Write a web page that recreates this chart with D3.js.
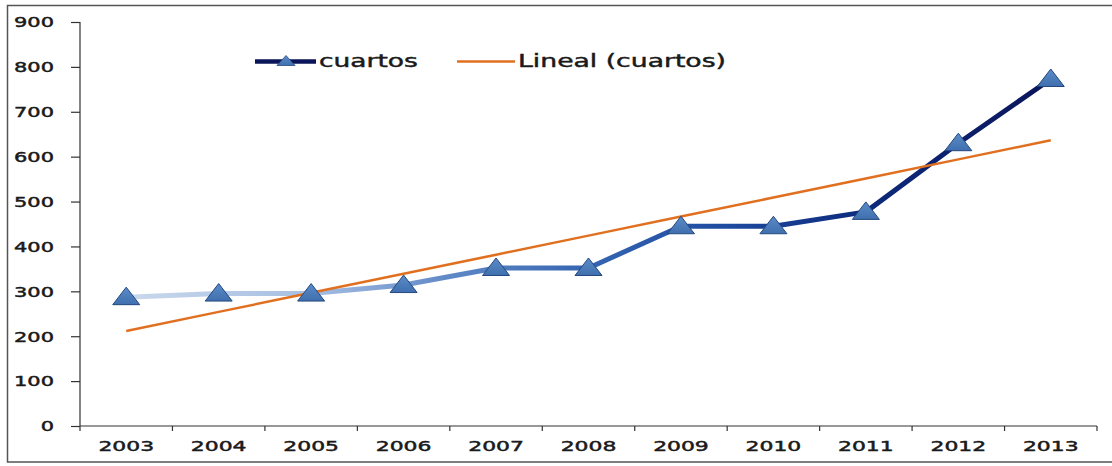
<!DOCTYPE html>
<html>
<head>
<meta charset="utf-8">
<script src="https://cdn.jsdelivr.net/npm/d3@7"></script>
<style>
  html, body { margin: 0; padding: 0; background: #fff; }
  svg { display: block; }
  text { font-family: "DejaVu Sans", Verdana, sans-serif; fill: #1a1a1a; stroke: #1a1a1a; stroke-width: 0.45px; }
</style>
</head>
<body>
<svg id="chart" width="1112" height="466"></svg>
<script>
const years = ["2003","2004","2005","2006","2007","2008","2009","2010","2011","2012","2013"];
const cuartos = [287, 295, 295, 314, 352, 352, 445, 445, 477, 630, 773];
const yTicks = [0, 100, 200, 300, 400, 500, 600, 700, 800, 900];
const seriesName = "cuartos";
const trendName = "Lineal (cuartos)";

// linear regression trend (Excel "Lineal")
const n = cuartos.length;
const xs = d3.range(1, n + 1);
const mx = d3.mean(xs), my = d3.mean(cuartos);
const slope = d3.sum(xs.map((x, i) => (x - mx) * (cuartos[i] - my))) / d3.sum(xs.map(x => (x - mx) ** 2));
const intercept = my - slope * mx;
const trend = xs.map(x => intercept + slope * x);

const svg = d3.select("#chart");

// outer border
svg.append("rect").attr("x", 7.5).attr("y", 5.5).attr("width", 1120).attr("height", 456.5)
  .attr("fill", "none").attr("stroke", "#555").attr("stroke-width", 1.5);

const x = d3.scaleBand().domain(years).range([80, 1097]).padding(0);
const y = d3.scaleLinear().domain([0, 900]).range([426, 22]);
const cx = d => x(d) + x.bandwidth() / 2;

function stretch(sel, k) {
  sel.each(function() {
    const w = this.getComputedTextLength();
    d3.select(this).attr("textLength", w * k).attr("lengthAdjust", "spacingAndGlyphs");
  });
}

// Y axis
const yAxis = svg.append("g").attr("transform", "translate(80,0)")
  .call(d3.axisLeft(y).tickValues(yTicks).tickSize(9).tickPadding(17).tickFormat(d3.format("d")));
yAxis.select(".domain").attr("stroke", "#333").attr("stroke-width", 1.2).attr("d", "M-9,22.5H0V426");
yAxis.selectAll(".tick line").attr("stroke", "#333").attr("stroke-width", 1.2);
yAxis.selectAll(".tick text").attr("font-size", 13.5).attr("fill", "#1a1a1a")
  .attr("font-family", "DejaVu Sans").attr("dy", "0.36em");
yAxis.selectAll(".tick text").call(stretch, 1.55);

// X axis
const xAxis = svg.append("g").attr("transform", "translate(0,426)")
  .call(d3.axisBottom(x).tickSize(0).tickPadding(15));
xAxis.select(".domain").attr("stroke", "#333").attr("stroke-width", 1.2).attr("d", "M80,0H1097");
xAxis.selectAll(".tick text").attr("font-size", 13.5).attr("fill", "#1a1a1a").attr("font-family", "DejaVu Sans");
xAxis.selectAll(".tick text").call(stretch, 1.62);
// boundary tick marks between categories
const bounds = years.map(d => x(d) + x.bandwidth()).concat([x(years[0])]);
xAxis.selectAll("line.btick").data(bounds).join("line").attr("class", "btick")
  .attr("x1", d => d).attr("x2", d => d).attr("y1", 0).attr("y2", 5)
  .attr("stroke", "#333").attr("stroke-width", 1.2);

// gradient for the series line
const defs = svg.append("defs");
const grad = defs.append("linearGradient").attr("id", "lineGrad")
  .attr("gradientUnits", "userSpaceOnUse")
  .attr("x1", cx(years[0])).attr("x2", cx(years[n - 1])).attr("y1", 0).attr("y2", 0);
[[0, "#c9d8ec"], [0.2, "#a6bfe2"], [0.35, "#5f88c6"], [0.5, "#3565b2"], [0.65, "#1d4a9f"], [0.8, "#0e2a7c"], [1, "#0a155a"]]
  .forEach(([o, c]) => grad.append("stop").attr("offset", o).attr("stop-color", c));

// series line
const line = d3.line().x((d, i) => cx(years[i])).y(d => y(d));
svg.append("path").datum(cuartos).attr("d", line)
  .attr("fill", "none").attr("stroke", "url(#lineGrad)").attr("stroke-width", 5)
  .attr("stroke-linejoin", "round");

// trend line
svg.append("path").datum(trend).attr("d", line)
  .attr("fill", "none").attr("stroke", "#e07020").attr("stroke-width", 2.5);

// triangle markers
const tri = "M0,-9.5L13.5,8L-13.5,8Z";
const triGrad = defs.append("linearGradient").attr("id", "triGrad").attr("x1", 0).attr("x2", 0).attr("y1", 0).attr("y2", 1);
triGrad.append("stop").attr("offset", 0).attr("stop-color", "#5b8cc8");
triGrad.append("stop").attr("offset", 1).attr("stop-color", "#3f6fae");
svg.append("g").selectAll("path").data(cuartos).join("path")
  .attr("d", tri)
  .attr("transform", (d, i) => `translate(${cx(years[i])},${y(d) - 0.5})`)
  .attr("fill", "url(#triGrad)").attr("stroke", "#24487e").attr("stroke-width", 1);

// legend
const lg = svg.append("g");
lg.append("line").attr("x1", 255).attr("x2", 316).attr("y1", 61.5).attr("y2", 61.5)
  .attr("stroke", "#0a155a").attr("stroke-width", 4.5);
lg.append("path").attr("d", "M0,-6L9,4L-9,4Z").attr("transform", "translate(286,61.5)")
  .attr("fill", "url(#triGrad)").attr("stroke", "#24487e").attr("stroke-width", 0.8);
lg.append("text").attr("x", 319).attr("y", 67).attr("font-size", 18).text(seriesName)
  .call(stretch, 1.47);
lg.append("line").attr("x1", 457).attr("x2", 515).attr("y1", 61.5).attr("y2", 61.5)
  .attr("stroke", "#e07020").attr("stroke-width", 2.5);
lg.append("text").attr("x", 518).attr("y", 67).attr("font-size", 18).text(trendName)
  .call(stretch, 1.48);
</script>
</body>
</html>
